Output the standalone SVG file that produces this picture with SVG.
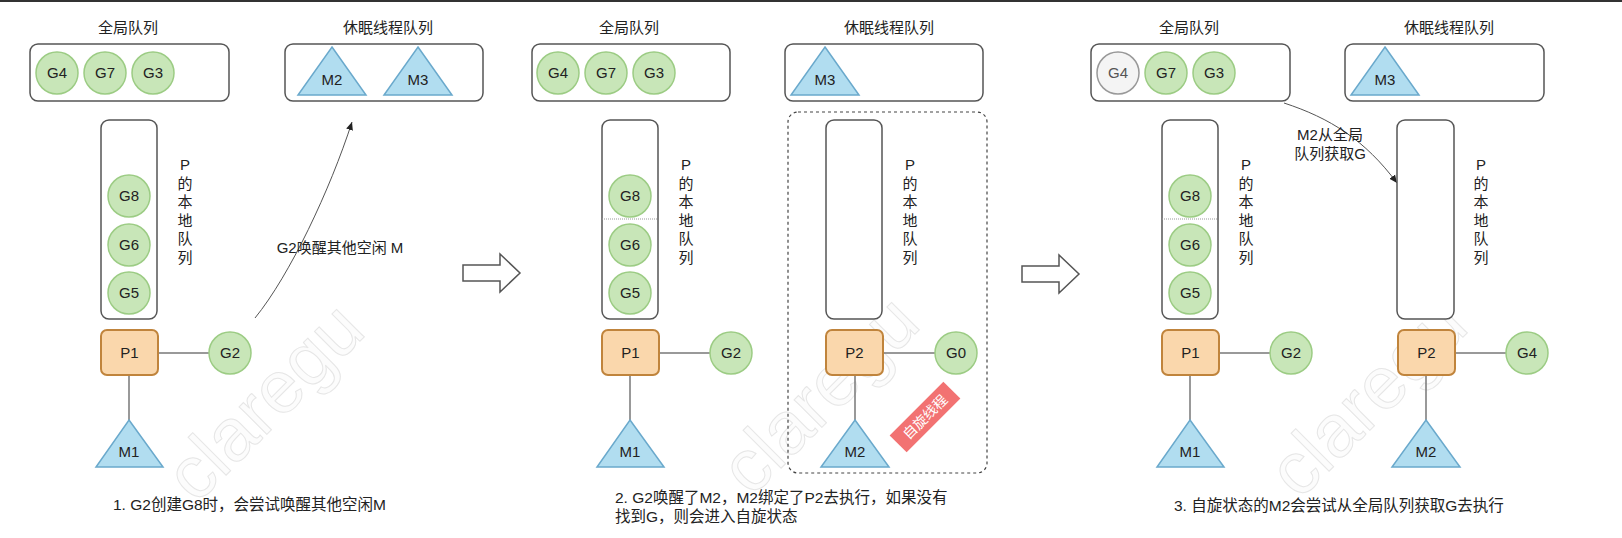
<svg xmlns="http://www.w3.org/2000/svg" width="1622" height="538" viewBox="0 0 1622 538">
<style>
text{font-family:"Liberation Sans","Noto Sans CJK SC",sans-serif;fill:#222}
.t{font-size:15px;text-anchor:middle}
.cap{font-size:15.5px}
.box{fill:#fff;stroke:#555;stroke-width:1.5}
.g{fill:#c8e6b8;stroke:#9ccc84;stroke-width:1.5}
.gg{fill:#f4f4f4;stroke:#999;stroke-width:1.5}
.m{fill:#b1ddf0;stroke:#6aa9cc;stroke-width:1.5}
.p{fill:#fad7ac;stroke:#c0843c;stroke-width:2}
.ln{stroke:#777;stroke-width:1.5;fill:none}
.sep{stroke:#999;stroke-width:1;stroke-dasharray:1 1}
.cv{stroke:#555;stroke-width:1;fill:none}
.ha{fill:#fff;stroke:#555;stroke-width:1.5}
.wm{font-size:74px;fill:#fcfcfc;stroke:#e6e6e6;stroke-width:1;text-anchor:middle}
</style>
<defs>
<marker id="ah" markerUnits="userSpaceOnUse" markerWidth="9" markerHeight="8" refX="8" refY="4" orient="auto"><path d="M0,0.5 L8,4 L0,7.5 z" fill="#222"/></marker>
</defs>
<rect x="0" y="0" width="1622" height="2" fill="#333"/>
<g id="watermarks">
<text class="wm" transform="translate(268,405) rotate(-45)" y="20">claregu</text>
<text class="wm" transform="translate(823,398) rotate(-45)" y="20">claregu</text>
<text class="wm" transform="translate(1371,401) rotate(-45)" y="20">claregu</text>
</g>
<g id="connectors">
<line class="ln" x1="158" y1="353" x2="209" y2="353"/>
<line class="ln" x1="129" y1="375" x2="129" y2="420"/>
<path class="cv" d="M255,318 C290,275 330,190 352,122" marker-end="url(#ah)"/>
<line class="ln" x1="659" y1="353" x2="710" y2="353"/>
<line class="ln" x1="630" y1="375" x2="630" y2="420"/>
<line class="ln" x1="883" y1="353" x2="935" y2="353"/>
<line class="ln" x1="855" y1="375" x2="855" y2="420"/>
<line class="ln" x1="1219" y1="353" x2="1270" y2="353"/>
<line class="ln" x1="1190" y1="375" x2="1190" y2="420"/>
<line class="ln" x1="1455" y1="353" x2="1506" y2="353"/>
<line class="ln" x1="1426" y1="375" x2="1426" y2="420"/>
<path class="cv" d="M1284,103 C1330,118 1365,140 1397,183" marker-end="url(#ah)"/>
</g>
<g id="transition-arrows">
<path class="ha" transform="translate(463,273)" d="M0,-8 H37 V-19 L57,0 L37,19 V8 H0 Z"/>
<path class="ha" transform="translate(1022,274)" d="M0,-8 H37 V-19 L57,0 L37,19 V8 H0 Z"/>
</g>

<!-- Panel 1 -->
<g id="p1-global">
<text class="t" x="128" y="33">全局队列</text>
<rect class="box" x="30" y="44" width="199" height="57" rx="8"/>
<circle class="g" cx="57" cy="73" r="21"/><text class="t" x="57" y="78">G4</text>
<circle class="g" cx="105" cy="73" r="21"/><text class="t" x="105" y="78">G7</text>
<circle class="g" cx="153" cy="73" r="21"/><text class="t" x="153" y="78">G3</text>
</g>
<g id="p1-sleep">
<text class="t" x="388" y="33">休眠线程队列</text>
<rect class="box" x="285" y="44" width="198" height="57" rx="8"/>
<path class="m" d="M332,47 L366,95 L298,95 Z"/><text class="t" x="332" y="85">M2</text>
<path class="m" d="M418,47 L452,95 L384,95 Z"/><text class="t" x="418" y="85">M3</text>
</g>
<g id="p1-local">
<rect class="box" x="101" y="120" width="56" height="199" rx="8"/>
<circle class="g" cx="129" cy="196" r="21"/><text class="t" x="129" y="201">G8</text>
<circle class="g" cx="129" cy="245" r="21"/><text class="t" x="129" y="250">G6</text>
<circle class="g" cx="129" cy="293" r="21"/><text class="t" x="129" y="298">G5</text>
<text class="t"><tspan x="185" y="170">P</tspan><tspan x="185" y="189">的</tspan><tspan x="185" y="207">本</tspan><tspan x="185" y="226">地</tspan><tspan x="185" y="244">队</tspan><tspan x="185" y="263">列</tspan></text>
</g>
<g id="p1-P1"><rect class="p" x="101" y="330" width="57" height="45" rx="6"/><text class="t" x="129.5" y="358">P1</text></g>
<g id="p1-G2"><circle class="g" cx="230" cy="353" r="21"/><text class="t" x="230" y="358">G2</text></g>
<g id="p1-M1"><path class="m" d="M129,420 L163,467 L96,467 Z"/><text class="t" x="129" y="457">M1</text></g>
<g id="p1-label"><text class="t" x="340" y="253">G2唤醒其他空闲 M</text></g>
<g id="p1-caption"><text class="cap" x="113" y="510">1. G2创建G8时，会尝试唤醒其他空闲M</text></g>

<!-- Panel 2 -->
<g id="p2-global">
<text class="t" x="629" y="33">全局队列</text>
<rect class="box" x="532" y="44" width="198" height="57" rx="8"/>
<circle class="g" cx="558" cy="73" r="21"/><text class="t" x="558" y="78">G4</text>
<circle class="g" cx="606" cy="73" r="21"/><text class="t" x="606" y="78">G7</text>
<circle class="g" cx="654" cy="73" r="21"/><text class="t" x="654" y="78">G3</text>
</g>
<g id="p2-sleep">
<text class="t" x="889" y="33">休眠线程队列</text>
<rect class="box" x="785" y="44" width="198" height="57" rx="8"/>
<path class="m" d="M825,47 L859,95 L791,95 Z"/><text class="t" x="825" y="85">M3</text>
</g>
<g id="p2-local">
<rect class="box" x="602" y="120" width="56" height="199" rx="8"/>
<line class="sep" x1="602" y1="219" x2="658" y2="219"/>
<circle class="g" cx="630" cy="196" r="21"/><text class="t" x="630" y="201">G8</text>
<circle class="g" cx="630" cy="245" r="21"/><text class="t" x="630" y="250">G6</text>
<circle class="g" cx="630" cy="293" r="21"/><text class="t" x="630" y="298">G5</text>
<text class="t"><tspan x="686" y="170">P</tspan><tspan x="686" y="189">的</tspan><tspan x="686" y="207">本</tspan><tspan x="686" y="226">地</tspan><tspan x="686" y="244">队</tspan><tspan x="686" y="263">列</tspan></text>
</g>
<g id="p2-P1"><rect class="p" x="602" y="330" width="57" height="45" rx="6"/><text class="t" x="630.5" y="358">P1</text></g>
<g id="p2-G2"><circle class="g" cx="731" cy="353" r="21"/><text class="t" x="731" y="358">G2</text></g>
<g id="p2-M1"><path class="m" d="M630,420 L664,467 L597,467 Z"/><text class="t" x="630" y="457">M1</text></g>
<g id="p2-spin">
<rect x="788" y="112" width="199" height="361" rx="10" fill="none" stroke="#444" stroke-width="1.2" stroke-dasharray="3 3"/>
<rect class="box" x="826" y="120" width="56" height="199" rx="8"/>
<text class="t"><tspan x="910" y="170">P</tspan><tspan x="910" y="189">的</tspan><tspan x="910" y="207">本</tspan><tspan x="910" y="226">地</tspan><tspan x="910" y="244">队</tspan><tspan x="910" y="263">列</tspan></text>
</g>
<g id="p2-P2"><rect class="p" x="826" y="330" width="57" height="45" rx="6"/><text class="t" x="854.5" y="358">P2</text></g>
<g id="p2-G0"><circle class="g" cx="956" cy="353" r="21"/><text class="t" x="956" y="358">G0</text></g>
<g id="p2-M2"><path class="m" d="M855,420 L889,467 L821,467 Z"/><text class="t" x="855" y="457">M2</text></g>
<g id="p2-badge" transform="translate(925,417) rotate(-45)">
<rect x="-38" y="-12" width="76" height="24" fill="#f27272"/>
<text x="0" y="5" style="font-size:14px;text-anchor:middle;fill:#fff">自旋线程</text>
</g>
<g id="p2-caption">
<text class="cap" x="615" y="503">2. G2唤醒了M2，M2绑定了P2去执行，如果没有</text>
<text class="cap" x="615" y="522">找到G，则会进入自旋状态</text>
</g>

<!-- Panel 3 -->
<g id="p3-global">
<text class="t" x="1189" y="33">全局队列</text>
<rect class="box" x="1091" y="44" width="199" height="57" rx="8"/>
<circle class="gg" cx="1118" cy="73" r="21"/><text class="t" x="1118" y="78" style="fill:#555">G4</text>
<circle class="g" cx="1166" cy="73" r="21"/><text class="t" x="1166" y="78">G7</text>
<circle class="g" cx="1214" cy="73" r="21"/><text class="t" x="1214" y="78">G3</text>
</g>
<g id="p3-sleep">
<text class="t" x="1449" y="33">休眠线程队列</text>
<rect class="box" x="1345" y="44" width="199" height="57" rx="8"/>
<path class="m" d="M1385,47 L1419,95 L1351,95 Z"/><text class="t" x="1385" y="85">M3</text>
</g>
<g id="p3-local1">
<rect class="box" x="1162" y="120" width="56" height="199" rx="8"/>
<line class="sep" x1="1162" y1="219" x2="1218" y2="219"/>
<circle class="g" cx="1190" cy="196" r="21"/><text class="t" x="1190" y="201">G8</text>
<circle class="g" cx="1190" cy="245" r="21"/><text class="t" x="1190" y="250">G6</text>
<circle class="g" cx="1190" cy="293" r="21"/><text class="t" x="1190" y="298">G5</text>
<text class="t"><tspan x="1246" y="170">P</tspan><tspan x="1246" y="189">的</tspan><tspan x="1246" y="207">本</tspan><tspan x="1246" y="226">地</tspan><tspan x="1246" y="244">队</tspan><tspan x="1246" y="263">列</tspan></text>
</g>
<g id="p3-P1"><rect class="p" x="1162" y="330" width="57" height="45" rx="6"/><text class="t" x="1190.5" y="358">P1</text></g>
<g id="p3-G2"><circle class="g" cx="1291" cy="353" r="21"/><text class="t" x="1291" y="358">G2</text></g>
<g id="p3-M1"><path class="m" d="M1190,420 L1224,467 L1157,467 Z"/><text class="t" x="1190" y="457">M1</text></g>
<g id="p3-local2">
<rect class="box" x="1397" y="120" width="57" height="199" rx="8"/>
<text class="t"><tspan x="1481" y="170">P</tspan><tspan x="1481" y="189">的</tspan><tspan x="1481" y="207">本</tspan><tspan x="1481" y="226">地</tspan><tspan x="1481" y="244">队</tspan><tspan x="1481" y="263">列</tspan></text>
</g>
<g id="p3-P2"><rect class="p" x="1398" y="330" width="57" height="45" rx="6"/><text class="t" x="1426.5" y="358">P2</text></g>
<g id="p3-G4"><circle class="g" cx="1527" cy="353" r="21"/><text class="t" x="1527" y="358">G4</text></g>
<g id="p3-M2"><path class="m" d="M1426,420 L1460,467 L1392,467 Z"/><text class="t" x="1426" y="457">M2</text></g>
<g id="p3-label">
<text class="t" x="1330" y="140">M2从全局</text>
<text class="t" x="1330" y="159">队列获取G</text>
</g>
<g id="p3-caption"><text class="cap" x="1174" y="511">3. 自旋状态的M2会尝试从全局队列获取G去执行</text></g>
</svg>
